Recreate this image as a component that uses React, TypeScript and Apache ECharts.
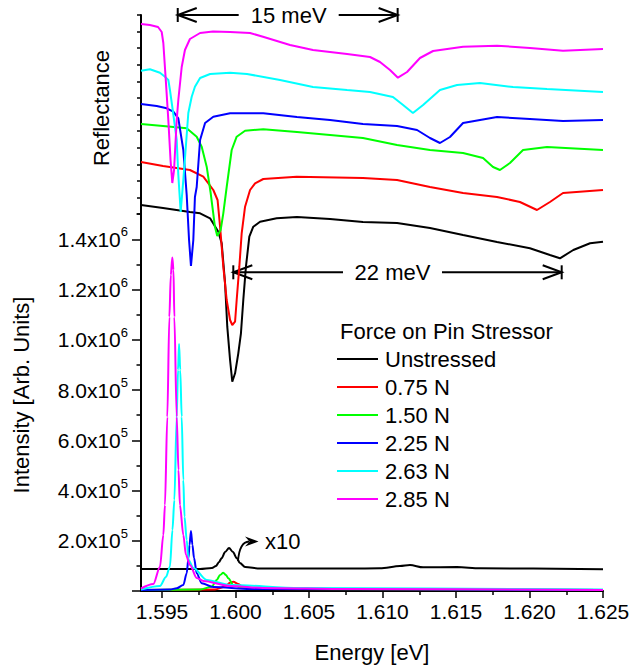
import React, { useEffect, useRef } from 'react';
import * as echarts from 'echarts';

const FONT = "'Liberation Sans', Arial, Helvetica, sans-serif";

// Energy axis
const X_MIN = 1.593571;
const X_MAX = 1.625;
const X_TICK_MIN = 1.595;
const X_TICK_STEP = 0.005;

// Intensity axis (PL)
const Y_MAX = 1.5e6;
const Y_MAJOR_TICKS = [0, 2e5, 4e5, 6e5, 8e5, 1.0e6, 1.2e6, 1.4e6];
const Y_LABEL_VALUES = [2e5, 4e5, 6e5, 8e5, 1.0e6, 1.2e6, 1.4e6];
const Y_MINOR_TICKS = [1e5, 3e5, 5e5, 7e5, 9e5, 1.1e6, 1.3e6, 1.5e6];

// Reflectance axis (offset, arbitrary units)
const R_MAX = 5.76;
const R_TICK_MAX = 12;

const FORCE_LABELS = ['Unstressed', '0.75 N', '1.50 N', '2.25 N', '2.63 N', '2.85 N'];
const COLORS = ['#000000', '#ff0000', '#00ff00', '#0000ff', '#00ffff', '#ff00ff'];

// Reflectance spectra [energy eV, reflectance (offset, arb.)]
const REFL_UNSTRESSED: [number, number][] = [
  [1.59357, 3.86], [1.59507, 3.83], [1.5969, 3.79], [1.59759, 3.777], [1.59827, 3.727],
  [1.59883, 3.593], [1.59906, 3.477], [1.59929, 3.077], [1.59944, 2.643], [1.59963, 2.31],
  [1.59978, 2.093], [1.59997, 2.177], [1.60019, 2.377], [1.60037, 2.577], [1.60053, 2.91],
  [1.60071, 3.243], [1.60094, 3.543], [1.60121, 3.643], [1.60167, 3.693], [1.6028, 3.727],
  [1.60418, 3.74], [1.60643, 3.72], [1.60867, 3.69], [1.61099, 3.68], [1.61323, 3.63],
  [1.61548, 3.56], [1.61779, 3.49], [1.62003, 3.427], [1.62139, 3.36], [1.62207, 3.327],
  [1.62298, 3.41], [1.62412, 3.477], [1.625, 3.493],
];
const REFL_075: [number, number][] = [
  [1.59357, 4.29], [1.59507, 4.25], [1.5969, 4.21], [1.59781, 4.143], [1.59849, 4.01],
  [1.59878, 3.91], [1.59895, 3.643], [1.59917, 3.243], [1.5994, 2.91], [1.59963, 2.71],
  [1.59978, 2.66], [1.59997, 2.693], [1.60008, 2.91], [1.60026, 3.243], [1.60042, 3.577],
  [1.60065, 3.843], [1.60099, 4.01], [1.60133, 4.077], [1.60189, 4.12], [1.60416, 4.143],
  [1.60867, 4.13], [1.61099, 4.11], [1.61323, 4.04], [1.61548, 3.98], [1.61779, 3.94],
  [1.61935, 3.89], [1.62051, 3.81], [1.62139, 3.89], [1.62228, 3.98], [1.625, 4.01],
];
const REFL_150: [number, number][] = [
  [1.59357, 4.67], [1.59507, 4.65], [1.59668, 4.627], [1.59736, 4.543], [1.5977, 4.443],
  [1.59804, 4.243], [1.59831, 3.98], [1.5986, 3.643], [1.59876, 3.55], [1.59899, 3.61],
  [1.59917, 3.777], [1.5994, 4.04], [1.59974, 4.41], [1.60008, 4.543], [1.60065, 4.603],
  [1.60189, 4.617], [1.60418, 4.59], [1.60643, 4.56], [1.60867, 4.53], [1.61099, 4.46],
  [1.61323, 4.41], [1.61548, 4.38], [1.61684, 4.33], [1.61752, 4.24], [1.61799, 4.21],
  [1.61867, 4.28], [1.61956, 4.41], [1.62119, 4.44], [1.625, 4.41],
];
const REFL_225: [number, number][] = [
  [1.59357, 4.87], [1.59464, 4.85], [1.59532, 4.827], [1.59577, 4.793], [1.59611, 4.727],
  [1.59645, 4.41], [1.59668, 3.96], [1.59684, 3.51], [1.59697, 3.25], [1.59713, 3.51],
  [1.59724, 3.94], [1.59736, 4.04], [1.59759, 4.51], [1.59793, 4.68], [1.59849, 4.743],
  [1.59963, 4.777], [1.60189, 4.777], [1.60418, 4.74], [1.60643, 4.71], [1.60867, 4.67],
  [1.61099, 4.65], [1.61235, 4.61], [1.61323, 4.53], [1.61391, 4.48], [1.61459, 4.54],
  [1.61548, 4.68], [1.61779, 4.74], [1.62003, 4.72], [1.62228, 4.7], [1.625, 4.71],
];
const REFL_263: [number, number][] = [
  [1.59357, 5.203], [1.59418, 5.217], [1.59486, 5.183], [1.5952, 5.143], [1.59543, 5.11],
  [1.59554, 5.01], [1.59573, 4.81], [1.596, 4.51], [1.59611, 4.16], [1.59627, 3.79],
  [1.59645, 4.11], [1.59663, 4.46], [1.59679, 4.78], [1.59702, 4.943], [1.59724, 5.043],
  [1.59759, 5.13], [1.59827, 5.17], [1.59963, 5.183], [1.60078, 5.17], [1.60303, 5.11],
  [1.60527, 5.04], [1.60759, 5.01], [1.60915, 4.99], [1.61071, 4.94], [1.6114, 4.86],
  [1.61207, 4.78], [1.61276, 4.86], [1.61391, 5.01], [1.61507, 5.06], [1.61663, 5.08],
  [1.61888, 5.04], [1.62119, 5.02], [1.625, 4.99],
];
const REFL_285: [number, number][] = [
  [1.59357, 5.67], [1.59418, 5.66], [1.59473, 5.64], [1.59498, 5.59], [1.59509, 5.48],
  [1.59527, 5.08], [1.59543, 4.71], [1.59558, 4.31], [1.5957, 4.08], [1.59582, 4.21],
  [1.596, 4.71], [1.59611, 4.91], [1.59634, 5.24], [1.59656, 5.41], [1.5969, 5.52],
  [1.59759, 5.58], [1.59847, 5.595], [1.59963, 5.59], [1.60099, 5.58], [1.60187, 5.543],
  [1.60371, 5.46], [1.60527, 5.41], [1.60759, 5.37], [1.60915, 5.34], [1.60983, 5.29],
  [1.61051, 5.21], [1.61105, 5.133], [1.61167, 5.19], [1.61255, 5.33], [1.61344, 5.4],
  [1.61548, 5.443], [1.61779, 5.453], [1.62003, 5.43], [1.62228, 5.403], [1.625, 5.42],
];

// Photoluminescence spectra [energy eV, intensity]
const PL_UNSTRESSED_X10: [number, number][] = [
  [1.59357, 8.76e4], [1.59759, 8.76e4], [1.5984, 9.16e4], [1.59867, 9.95e4], [1.59888, 1.154e5],
  [1.59906, 1.31e5], [1.59929, 1.55e5], [1.59956, 1.71e5], [1.59983, 1.55e5], [1.60008, 1.31e5],
  [1.6003, 1.115e5], [1.60065, 9.55e4], [1.60167, 8.96e4], [1.60439, 8.96e4], [1.60779, 8.96e4],
  [1.60983, 9.04e4], [1.61119, 9.95e4], [1.61187, 1.035e5], [1.61276, 9.43e4], [1.61507, 9.55e4],
  [1.61663, 9.04e4], [1.625, 8.64e4],
];
const PL_075: [number, number][] = [
  [1.59357, 4e3], [1.5986, 6e3], [1.59929, 1.71e4], [1.59963, 3.3e4], [1.59985, 3.7e4],
  [1.60019, 2.79e4], [1.60053, 1.47e4], [1.60167, 8e3], [1.625, 4e3],
];
const PL_150: [number, number][] = [
  [1.59357, 4e3], [1.59759, 6e3], [1.59838, 1.71e4], [1.59872, 4.38e4], [1.59895, 6.37e4],
  [1.59917, 7.29e4], [1.59935, 6.37e4], [1.59951, 5.06e4], [1.59985, 2.39e4], [1.6003, 1.47e4],
  [1.60235, 8e3], [1.625, 4e3],
];
const PL_225: [number, number][] = [
  [1.59357, 4e3], [1.59554, 6e3], [1.596, 1.07e4], [1.59645, 2.39e4], [1.59668, 7.05e4],
  [1.5968, 1.31e5], [1.59687, 1.83e5], [1.59697, 2.39e5], [1.59707, 1.83e5], [1.59718, 1.31e5],
  [1.59736, 7.05e4], [1.5977, 3.07e4], [1.59849, 1.6e4], [1.60099, 8e3], [1.625, 4e3],
];
const PL_263: [number, number][] = [
  [1.59357, 6e3], [1.59486, 2.0e4], [1.59527, 5.6e4], [1.59554, 9.7e4], [1.59571, 2.43e5],
  [1.59584, 3.62e5], [1.596, 6.94e5], [1.59609, 8.8e5], [1.59616, 9.83e5], [1.59624, 8.8e5],
  [1.59634, 6.94e5], [1.59645, 4.42e5], [1.59653, 2.96e5], [1.59668, 2.03e5], [1.5968, 1.23e5],
  [1.59713, 9.2e4], [1.59804, 4.4e4], [1.59963, 2.4e4], [1.60439, 1.2e4], [1.625, 6e3],
];
const PL_285: [number, number][] = [
  [1.59357, 1.0e4], [1.59441, 2.79e4], [1.59486, 9.55e4], [1.59509, 2.23e5], [1.5952, 3.42e5],
  [1.59536, 6.93e5], [1.5955, 1.091e6], [1.5956, 1.258e6], [1.5957, 1.328e6], [1.59578, 1.278e6],
  [1.59584, 1.091e6], [1.596, 6.93e5], [1.59612, 4.82e5], [1.59622, 3.42e5], [1.59645, 2.23e5],
  [1.59663, 1.43e5], [1.5969, 1.04e5], [1.59736, 5.2e4], [1.59781, 4.0e4], [1.59963, 2.0e4],
  [1.60187, 1.2e4], [1.60779, 8e3], [1.625, 4e3],
];

const REFL = [REFL_UNSTRESSED, REFL_075, REFL_150, REFL_225, REFL_263, REFL_285];
const PL = [PL_UNSTRESSED_X10, PL_075, PL_150, PL_225, PL_263, PL_285];

// Splitting annotations (energies, eV)
const SPLIT_15 = [1.59607, 1.61103];
const SPLIT_22 = [1.59985, 1.62219];

const TXT = { color: '#000', fontFamily: FONT };

function dimArrow(xl: number, xr: number, y: number, cx: number, half: number, label: string) {
  const st = { stroke: '#000', lineWidth: 2, fill: 'none' };
  const a = 19, h = 7;
  return [
    { type: 'line', shape: { x1: xl, y1: y, x2: cx - half, y2: y }, style: st },
    { type: 'line', shape: { x1: cx + half, y1: y, x2: xr, y2: y }, style: st },
    { type: 'line', shape: { x1: xl, y1: y - h, x2: xl, y2: y + h }, style: st },
    { type: 'line', shape: { x1: xr, y1: y - h, x2: xr, y2: y + h }, style: st },
    { type: 'polyline', shape: { points: [[xl + a, y - h], [xl, y], [xl + a, y + h]] }, style: st },
    { type: 'polyline', shape: { points: [[xr - a, y - h], [xr, y], [xr - a, y + h]] }, style: st },
    {
      type: 'text', x: cx, y,
      style: { text: label, fontSize: 22, fontFamily: FONT, fill: '#000', align: 'center', verticalAlign: 'middle' },
    },
  ];
}

export default function App() {
  const ref = useRef<HTMLDivElement>(null);
  useEffect(() => {
    if (!ref.current) return;
    const chart = echarts.init(ref.current, undefined, { renderer: 'svg' });

    const axisLine = { show: true, onZero: false, lineStyle: { color: '#000', width: 2 } };
    const series: any[] = [];
    FORCE_LABELS.forEach((name, i) => {
      series.push({
        type: 'line', name, xAxisIndex: 0, yAxisIndex: 0, data: REFL[i],
        color: COLORS[i], symbol: 'none', showSymbol: false, smooth: false,
        lineStyle: { width: 2, color: COLORS[i] }, z: 3,
      });
    });
    FORCE_LABELS.forEach((name, i) => {
      series.push({
        type: 'line', name, xAxisIndex: 1, yAxisIndex: 1, data: PL[i],
        color: COLORS[i], symbol: 'none', showSymbol: false, smooth: 0.3, smoothMonotone: 'x',
        lineStyle: { width: 2, color: COLORS[i] }, z: 3,
      });
    });

    const option: any = {
      animation: false,
      backgroundColor: '#fff',
      textStyle: { fontFamily: FONT },
      grid: [
        { left: 141, right: 30, top: 15, bottom: 77 },
        { left: 141, right: 30, top: 214.2, bottom: 77 },
        { left: 141, right: 30, top: 15, height: 199.2 },
        { left: 162, right: 30, top: 15, bottom: 77 },
      ],
      xAxis: [
        {
          gridIndex: 0, type: 'value', min: X_MIN, max: X_MAX, position: 'bottom',
          axisLine, axisTick: { show: false }, axisLabel: { show: false }, splitLine: { show: false },
        },
        { gridIndex: 1, type: 'value', min: X_MIN, max: X_MAX, show: false },
        { gridIndex: 2, type: 'value', min: 0, max: 1, show: false },
        {
          gridIndex: 3, type: 'value', min: X_TICK_MIN, max: X_MAX, interval: X_TICK_STEP, position: 'bottom',
          axisLine: { show: false, onZero: false },
          axisTick: { show: true, length: 7, lineStyle: { color: '#000', width: 1.5 } },
          minorTick: { show: true, splitNumber: 2, length: 4, lineStyle: { color: '#000', width: 1.5 } },
          axisLabel: { ...TXT, fontSize: 21, margin: 10, formatter: (v: number) => v.toFixed(3) },
          splitLine: { show: false }, minorSplitLine: { show: false },
        },
      ],
      yAxis: [
        {
          gridIndex: 0, type: 'value', min: 0, max: R_MAX, position: 'left',
          axisLine, axisTick: { show: false }, axisLabel: { show: false }, splitLine: { show: false },
        },
        {
          gridIndex: 1, type: 'value', min: 0, max: Y_MAX, position: 'left',
          axisLine: { show: false, onZero: false },
          axisTick: { show: true, customValues: Y_MAJOR_TICKS, length: 9, lineStyle: { color: '#000', width: 1.5 } },
          axisLabel: {
            show: true, customValues: Y_LABEL_VALUES, margin: 13,
            formatter: (v: number) => {
              if (v < 1.5e5 || v > 1.45e6) return '';
              const exp = Math.floor(Math.log10(v) + 1e-9);
              const mant = (v / Math.pow(10, exp)).toFixed(1);
              return `{m|${mant}x10}{e|${exp}}`;
            },
            rich: {
              m: { ...TXT, fontSize: 21, lineHeight: 28 },
              e: { ...TXT, fontSize: 13, lineHeight: 13, verticalAlign: 'top' },
            },
          },
          splitLine: { show: false },
        },
        {
          gridIndex: 1, type: 'value', min: 0, max: Y_MAX, position: 'left',
          axisLine: { show: false, onZero: false },
          axisTick: { show: true, customValues: Y_MINOR_TICKS, length: 4.5, lineStyle: { color: '#000', width: 1.5 } },
          axisLabel: { show: false }, splitLine: { show: false },
        },
        {
          gridIndex: 2, type: 'value', min: 0, max: R_TICK_MAX, interval: 1, position: 'left',
          axisLine: { show: false, onZero: false },
          axisTick: { show: true, length: 4, lineStyle: { color: '#000', width: 1.5 } },
          axisLabel: { show: false }, splitLine: { show: false },
        },
        { gridIndex: 3, type: 'value', min: 0, max: 1, show: false },
      ],
      title: {
        text: 'Force on Pin Stressor', left: 340, top: 320, padding: 0,
        textStyle: { ...TXT, fontSize: 22, fontWeight: 'normal' },
      },
      legend: {
        data: FORCE_LABELS, orient: 'vertical', left: 337, top: 347, icon: 'rect',
        itemWidth: 41, itemHeight: 2, itemGap: 4, padding: 0, selectedMode: false,
        textStyle: { ...TXT, fontSize: 22, lineHeight: 24, padding: [0, 0, 0, 2] },
      },
      series,
    };
    chart.setOption(option);

    const px = (e: number) => chart.convertToPixel({ xAxisIndex: 0 }, e) as number;
    const l15 = px(SPLIT_15[0]), r15 = px(SPLIT_15[1]);
    const l22 = px(SPLIT_22[0]), r22 = px(SPLIT_22[1]);
    const graphic: any[] = [
      ...dimArrow(l15, r15, 15, (l15 + r15) / 2 + 1, 50, '15 meV'),
      ...dimArrow(l22, r22, 272.3, (l22 + r22) / 2 - 5, 49.5, '22 meV'),
      {
        type: 'bezierCurve',
        shape: { x1: 238, y1: 561, x2: 249, y2: 541.5, cpx1: 239.5, cpy1: 542 },
        style: { stroke: '#000', lineWidth: 1.8, fill: 'none' },
      },
      {
        type: 'polygon',
        shape: { points: [[258.5, 541.5], [245, 536.5], [249.5, 541.5], [245, 546.5]] },
        style: { fill: '#000' },
      },
      {
        type: 'text', x: 265, y: 541.5,
        style: { text: 'x10', fontSize: 22, fontFamily: FONT, fill: '#000', align: 'left', verticalAlign: 'middle' },
      },
      {
        type: 'text', x: 101, y: 108, rotation: Math.PI / 2,
        style: { text: 'Reflectance', fontSize: 22, fontFamily: FONT, fill: '#000', align: 'center', verticalAlign: 'middle' },
      },
      {
        type: 'text', x: 21, y: 395, rotation: Math.PI / 2,
        style: { text: 'Intensity [Arb. Units]', fontSize: 22, fontFamily: FONT, fill: '#000', align: 'center', verticalAlign: 'middle' },
      },
      {
        type: 'text', x: 372, y: 652,
        style: { text: 'Energy [eV]', fontSize: 22, fontFamily: FONT, fill: '#000', align: 'center', verticalAlign: 'middle' },
      },
    ];
    chart.setOption({ graphic });

    return () => chart.dispose();
  }, []);

  return (
    <div
      ref={ref}
      style={{ position: 'fixed', left: 0, top: 0, width: 633, height: 668, background: '#fff' }}
    />
  );
}
